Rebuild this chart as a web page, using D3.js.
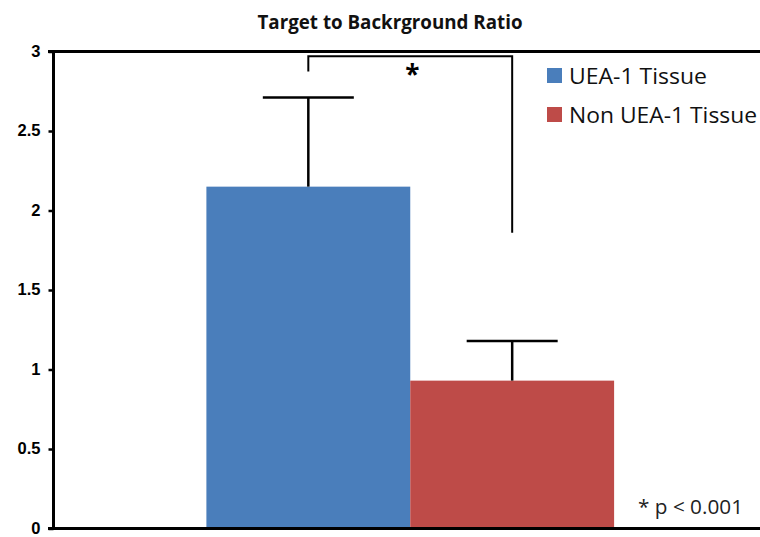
<!DOCTYPE html>
<html>
<head>
<meta charset="utf-8">
<script src="https://cdn.jsdelivr.net/npm/d3@7/dist/d3.min.js"></script>
<style>
  html, body { margin: 0; padding: 0; background: #fff; }
  svg { display: block; }
</style>
</head>
<body>
<svg id="chart" width="760" height="537"></svg>
<script>
// Data
const series = ["UEA-1 Tissue", "Non UEA-1 Tissue"];
const means = [2.15, 0.93];
const errors = [0.56, 0.25];
const colors = ["#4A7EBB", "#BE4B48"];
const yTicks = [0, 0.5, 1, 1.5, 2, 2.5, 3];
const yTickLabels = ["0", "0.5", "1", "1.5", "2", "2.5", "3"];
const title = "Target to Backrground Ratio";
const footnote = "* p < 0.001";
// Significance bracket: top level and leg ends (in data units)
const bracketTop = 2.97;
const bracketLegEnds = [2.875, 1.86];

const svg = d3.select("#chart");
const plot = { left: 53.5, right: 767, top: 51.5, bottom: 528.5 };

const y = d3.scaleLinear().domain([0, 3]).range([plot.bottom, plot.top]);
const x = d3.scaleBand().domain(series).range([plot.left, plot.right])
  .paddingInner(0).paddingOuter(0.75);

// Title
svg.append("text")
  .attr("x", 390).attr("y", 28.5)
  .attr("text-anchor", "middle")
  .attr("font-family", "'Open Sans', 'DejaVu Sans', sans-serif")
  .attr("font-weight", "bold")
  .attr("font-size", 20)
  .attr("textLength", 265).attr("lengthAdjust", "spacingAndGlyphs")
  .attr("fill", "#111")
  .text(title);

// Bars
svg.append("g").selectAll("rect")
  .data(series)
  .join("rect")
  .attr("x", d => x(d))
  .attr("width", x.bandwidth())
  .attr("y", (d, i) => y(means[i]))
  .attr("height", (d, i) => y(0) - y(means[i]))
  .attr("fill", (d, i) => colors[i]);

// Error bars (upper only)
const eb = svg.append("g").attr("stroke", "#000").attr("stroke-width", 2.5);
series.forEach((s, i) => {
  const cx = x(s) + x.bandwidth() / 2;
  eb.append("line")
    .attr("x1", cx).attr("x2", cx)
    .attr("y1", y(means[i])).attr("y2", y(means[i] + errors[i]));
  eb.append("line")
    .attr("x1", cx - 45.5).attr("x2", cx + 45.5)
    .attr("y1", y(means[i] + errors[i])).attr("y2", y(means[i] + errors[i]));
});

// Plot frame: top border and y axis
svg.append("line")
  .attr("x1", 48).attr("x2", plot.right)
  .attr("y1", plot.top).attr("y2", plot.top)
  .attr("stroke", "#000").attr("stroke-width", 3);

const yAxis = d3.axisLeft(y)
  .tickValues(yTicks)
  .tickFormat((d, i) => yTickLabels[i])
  .tickSize(5).tickPadding(8);
const gy = svg.append("g")
  .attr("transform", `translate(${plot.left},0)`)
  .call(yAxis);
gy.select(".domain").attr("stroke", "#000").attr("stroke-width", 3)
  .attr("d", `M0,${plot.top - 1.5}V${plot.bottom + 1.5}`);
gy.selectAll(".tick line").attr("stroke", "#000").attr("stroke-width", 2.5);
gy.selectAll(".tick text")
  .attr("font-family", "'Liberation Sans', Arial, sans-serif")
  .attr("font-weight", "bold")
  .attr("font-size", 16.5)
  .attr("dy", "0.28em")
  .attr("fill", "#000");

// x axis baseline
svg.append("line")
  .attr("x1", 48).attr("x2", plot.right)
  .attr("y1", y(0)).attr("y2", y(0))
  .attr("stroke", "#000").attr("stroke-width", 3);

// Significance bracket
const cx0 = x(series[0]) + x.bandwidth() / 2;
const cx1 = x(series[1]) + x.bandwidth() / 2;
svg.append("path")
  .attr("d", `M${cx0},${y(bracketLegEnds[0])}V${y(bracketTop)}H${cx1}V${y(bracketLegEnds[1])}`)
  .attr("fill", "none").attr("stroke", "#000").attr("stroke-width", 2);
svg.append("text")
  .attr("x", (cx0 + cx1) / 2 + 2).attr("y", 84)
  .attr("text-anchor", "middle")
  .attr("font-family", "'Open Sans', sans-serif")
  .attr("font-weight", "bold")
  .attr("font-size", 26)
  .attr("fill", "#000")
  .text("*");

// Legend
const legend = svg.append("g");
series.forEach((s, i) => {
  const ly = 68 + i * 39;
  legend.append("rect")
    .attr("x", 547).attr("y", ly).attr("width", 15).attr("height", 15)
    .attr("fill", colors[i]);
  legend.append("text")
    .attr("x", 569).attr("y", ly + 15.5)
    .attr("font-family", "'Open Sans', sans-serif")
    .attr("font-size", 22)
    .attr("textLength", i === 0 ? 138 : 188)
    .attr("lengthAdjust", "spacingAndGlyphs")
    .attr("fill", "#111")
    .text(s);
});

// Footnote
svg.append("text")
  .attr("x", 638).attr("y", 514)
  .attr("font-family", "'Open Sans', sans-serif")
  .attr("font-size", 19.5)
  .attr("textLength", 105)
  .attr("lengthAdjust", "spacingAndGlyphs")
  .attr("fill", "#222")
  .text(footnote);
</script>
</body>
</html>
